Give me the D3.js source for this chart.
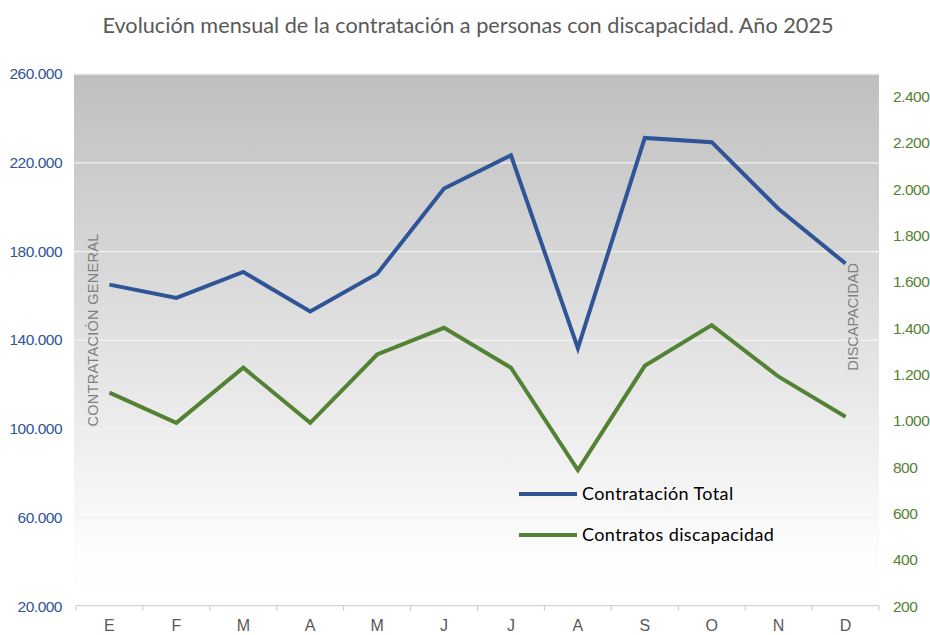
<!DOCTYPE html>
<html>
<head>
<meta charset="utf-8">
<script src="https://cdn.jsdelivr.net/npm/d3@7/dist/d3.min.js"></script>
<style>
  body { margin: 0; background: #fff; }
  svg { display: block; }
</style>
</head>
<body>
<svg id="chart"></svg>
<script>
const months = ["E", "F", "M", "A", "M", "J", "J", "A", "S", "O", "N", "D"];
const totalContracts = [165100, 159100, 170800, 153000, 170000, 208400, 223400, 136500, 231200, 229300, 199200, 174600];
const disabilityContracts = [1124, 994, 1232, 994, 1289, 1404, 1232, 790, 1240, 1416, 1193, 1020];
const leftTicks = [20000, 60000, 100000, 140000, 180000, 220000, 260000];
const rightTicks = [200, 400, 600, 800, 1000, 1200, 1400, 1600, 1800, 2000, 2200, 2400];

const layout = {
  width: 930, height: 635,
  left: 76, right: 879, top: 74, bottom: 606.7
};
const colors = { total: "#2f5597", disc: "#548235", text: "#595959", axisTitle: "#7f7f7f" };
const title = "Evolución mensual de la contratación a personas con discapacidad. Año 2025";

const fmt = (d) => d3.format(",")(d).replace(/,/g, ".");

const svg = d3.select("#chart")
  .attr("width", layout.width)
  .attr("height", layout.height);

const x = d3.scaleBand()
  .domain(d3.range(months.length))
  .range([layout.left, layout.right]);
const yLeft = d3.scaleLinear().domain([20000, 260000]).range([layout.bottom, layout.top]);
const yRight = d3.scaleLinear().domain([200, 2500]).range([layout.bottom, layout.top]);

// background gradient
const grad = svg.append("defs").append("linearGradient")
  .attr("id", "bg").attr("x1", 0).attr("y1", 0).attr("x2", 0).attr("y2", 1);
grad.append("stop").attr("offset", "0%").attr("stop-color", "#bfbfbf");
grad.append("stop").attr("offset", "90%").attr("stop-color", "#fdfdfd");
grad.append("stop").attr("offset", "100%").attr("stop-color", "#ffffff");

svg.append("rect")
  .attr("x", 74).attr("y", layout.top)
  .attr("width", layout.right - 74).attr("height", layout.bottom - layout.top)
  .attr("fill", "url(#bg)");

// gridlines
svg.append("g")
  .selectAll("line")
  .data(leftTicks.slice(1))
  .join("line")
  .attr("x1", 74).attr("x2", layout.right)
  .attr("y1", (d) => yLeft(d)).attr("y2", (d) => yLeft(d))
  .attr("stroke", "#f2f2f2").attr("stroke-width", 1.3);

// bottom axis
const xAxis = svg.append("g")
  .attr("transform", `translate(0, ${layout.bottom - 1})`);
xAxis.append("line")
  .attr("x1", layout.left).attr("x2", layout.right)
  .attr("stroke", "#c8c8c8").attr("stroke-width", 1);
xAxis.selectAll("line.tick")
  .data(d3.range(months.length + 1))
  .join("line")
  .attr("class", "tick")
  .attr("x1", (i) => layout.left + i * x.bandwidth())
  .attr("x2", (i) => layout.left + i * x.bandwidth())
  .attr("y1", 0).attr("y2", 5)
  .attr("stroke", "#c8c8c8");
xAxis.selectAll("text")
  .data(months)
  .join("text")
  .attr("x", (d, i) => x(i) + x.bandwidth() / 2)
  .attr("y", 25)
  .attr("text-anchor", "middle")
  .attr("font-family", "Liberation Sans, Arial, sans-serif")
  .attr("font-size", 16)
  .attr("fill", colors.text)
  .text((d) => d);

// left axis labels
svg.append("g")
  .selectAll("text")
  .data(leftTicks)
  .join("text")
  .attr("x", 62)
  .attr("y", (d) => yLeft(d) + 5)
  .attr("text-anchor", "end")
  .attr("font-family", "Liberation Sans, Arial, sans-serif")
  .attr("font-size", 15.5)
  .attr("letter-spacing", -0.5)
  .attr("fill", colors.total)
  .text(fmt);

// right axis labels
svg.append("g")
  .selectAll("text")
  .data(rightTicks)
  .join("text")
  .attr("x", 893)
  .attr("y", (d) => yRight(d) + 5)
  .attr("text-anchor", "start")
  .attr("font-family", "Liberation Sans, Arial, sans-serif")
  .attr("font-size", 15.5)
  .attr("letter-spacing", -0.5)
  .attr("fill", colors.disc)
  .text(fmt);

// axis titles
svg.append("text")
  .attr("transform", "translate(98, 330) rotate(-90)")
  .attr("text-anchor", "middle")
  .attr("font-family", "Liberation Sans, Arial, sans-serif")
  .attr("font-size", 14.5)
  .attr("letter-spacing", 0.3)
  .attr("fill", colors.axisTitle)
  .text("CONTRATACIÓN  GENERAL");

svg.append("text")
  .attr("transform", "translate(858, 317) rotate(-90)")
  .attr("text-anchor", "middle")
  .attr("font-family", "Liberation Sans, Arial, sans-serif")
  .attr("font-size", 14.5)
  .attr("fill", colors.axisTitle)
  .text("DISCAPACIDAD");

// lines
const cx = (i) => x(i) + x.bandwidth() / 2;
svg.append("path")
  .datum(totalContracts)
  .attr("fill", "none")
  .attr("stroke", colors.total)
  .attr("stroke-width", 4)
  .attr("d", d3.line().x((d, i) => cx(i)).y((d) => yLeft(d)));

svg.append("path")
  .datum(disabilityContracts)
  .attr("fill", "none")
  .attr("stroke", colors.disc)
  .attr("stroke-width", 4)
  .attr("d", d3.line().x((d, i) => cx(i)).y((d) => yRight(d)));

// legend
const legend = svg.append("g");
const legendItems = [
  { label: "Contratación Total", color: colors.total, y: 494 },
  { label: "Contratos discapacidad", color: colors.disc, y: 535 }
];
legendItems.forEach((it) => {
  legend.append("line")
    .attr("x1", 519).attr("x2", 577)
    .attr("y1", it.y).attr("y2", it.y)
    .attr("stroke", it.color).attr("stroke-width", 4);
  legend.append("text")
    .attr("x", 582).attr("y", it.y + 6)
    .attr("font-family", "Lato, Open Sans, sans-serif")
    .attr("font-size", 18)
    .attr("letter-spacing", 0.4)
    .attr("fill", "#000")
    .text(it.label);
});

// title
svg.append("text")
  .attr("x", 468).attr("y", 33)
  .attr("text-anchor", "middle")
  .attr("font-family", "Lato, Open Sans, sans-serif")
  .attr("font-size", 21.7)
  .attr("fill", colors.text)
  .text(title);
</script>
</body>
</html>
